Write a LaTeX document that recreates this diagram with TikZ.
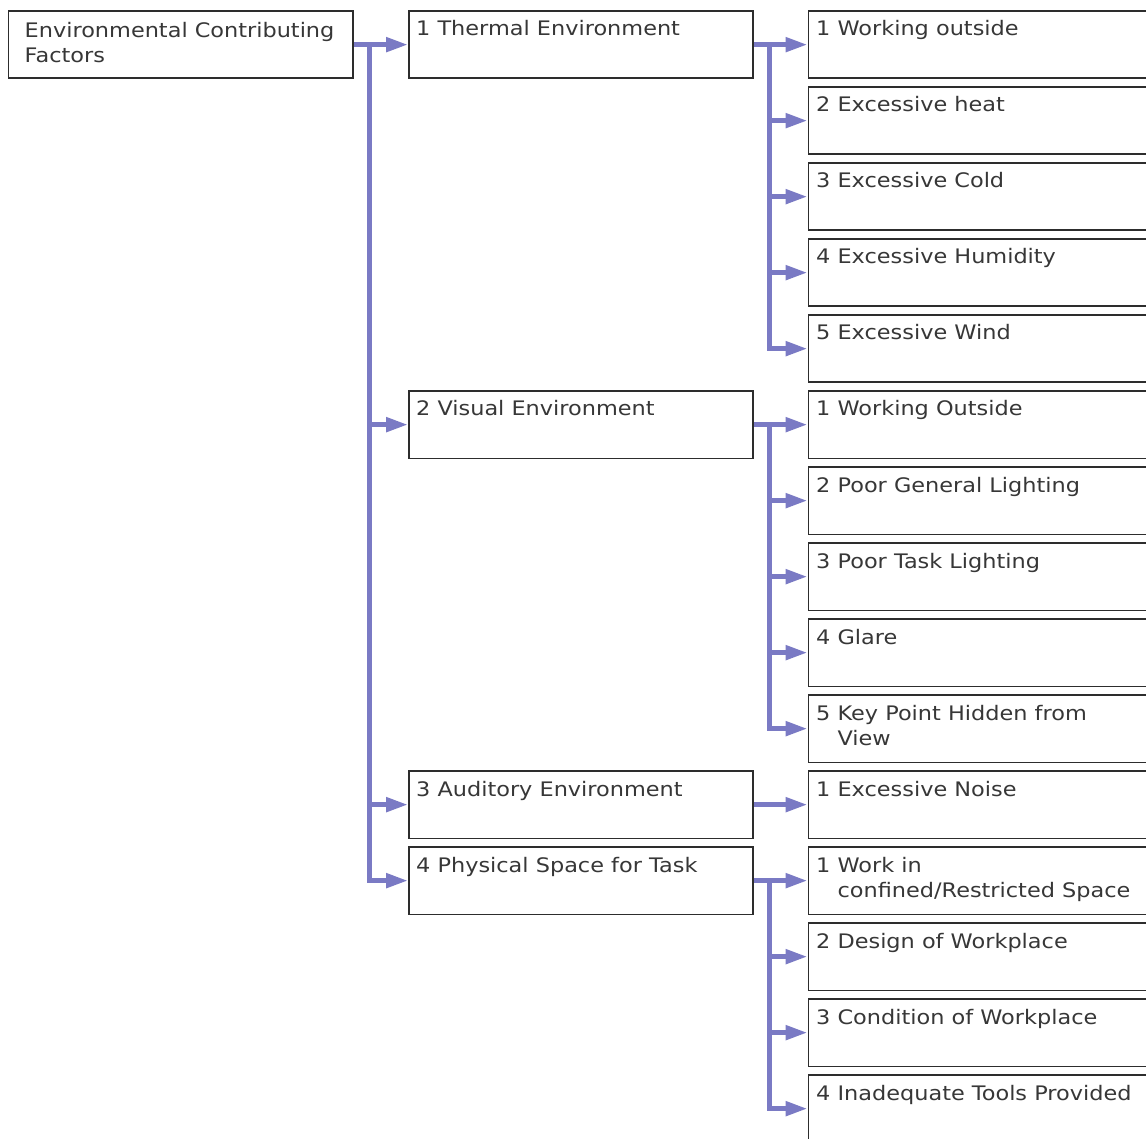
\documentclass[tikz,border=0pt]{standalone}
\usepackage{fontspec}
\setmainfont{DejaVu Sans}[FakeStretch=1.12]
\usetikzlibrary{arrows.meta,calc}
\definecolor{linkblue}{RGB}{122,122,196}
\definecolor{boxline}{RGB}{45,45,45}
\definecolor{ink}{RGB}{55,55,55}
% two lines stacked, baseline on the first one
\newcommand\stacklines[2]{\vtop{\hbox{#1}\hbox{#2}}}
\begin{document}
\begin{tikzpicture}[x=1pt,y=-1pt,
  box/.style={draw=boxline,line width=1.8pt,fill=white,anchor=north west,inner sep=0pt,minimum height=67.5pt},
  rootbox/.style={box,minimum width=344.5pt},
  midbox/.style={box,minimum width=344pt},
  leafbox/.style={box,minimum width=360pt},
  lbl/.style={anchor=base west,inner sep=0pt,text=ink,font=\fontsize{20}{25}\selectfont},
  conn/.style={draw=linkblue,line width=5pt,-{Triangle[length=22pt,width=14pt]}}
]
\useasboundingbox (0,0) rectangle (1146,1139);
\fill[white] (0,0) rectangle (1146,1139);
\clip (0,0) rectangle (1146,1139);

% root
\node[rootbox] (root) at (7.5,10) {};
\node[lbl] (rootT) at (24.5,37.5) {\stacklines{Environmental Contributing}{Factors}};

% second level
\foreach \n/\y/\t in {b1/10/{1 Thermal Environment},
                      b2/390/{2 Visual Environment},
                      b3/770/{3 Auditory Environment},
                      b4/846/{4 Physical Space for Task}} {
  \node[midbox] (\n) at (408,\y) {};
  \node[lbl] (\n T) at (416,\y+26) {\t};
}

% third level
\foreach \n/\k/\t in {t1/0/{1 Working outside},
                      t2/1/{2 Excessive heat},
                      t3/2/{3 Excessive Cold},
                      t4/3/{4 Excessive Humidity},
                      t5/4/{5 Excessive Wind},
                      v1/5/{1 Working Outside},
                      v2/6/{2 Poor General Lighting},
                      v3/7/{3 Poor Task Lighting},
                      v4/8/{4 Glare},
                      v5/9/{\stacklines{5 Key Point Hidden from}{\phantom{5 }View}},
                      a1/10/{1 Excessive Noise},
                      p1/11/{\stacklines{1 Work in}{\phantom{1 }confined/Restricted Space}},
                      p2/12/{2 Design of Workplace},
                      p3/13/{3 Condition of Workplace},
                      p4/14/{4 Inadequate Tools Provided}} {
  \node[leafbox] (\n) at (807.5,10+76*\k) {};
  \node[lbl] (\n T) at (816,36+76*\k) {\t};
}

% connectors from the root
\coordinate (j0) at ([xshift=15.5pt]root.east);
\draw[conn] (root.east) -- (b1.west);
\foreach \n in {b2,b3,b4} \draw[conn] (j0) |- (\n.west);

% thermal
\coordinate (j1) at ([xshift=16pt]b1.east);
\draw[conn] (b1.east) -- (t1.west);
\foreach \n in {t2,t3,t4,t5} \draw[conn] (j1) |- (\n.west);

% visual
\coordinate (j2) at ([xshift=16pt]b2.east);
\draw[conn] (b2.east) -- (v1.west);
\foreach \n in {v2,v3,v4,v5} \draw[conn] (j2) |- (\n.west);

% auditory
\draw[conn] (b3.east) -- (a1.west);

% physical space
\coordinate (j4) at ([xshift=16pt]b4.east);
\draw[conn] (b4.east) -- (p1.west);
\foreach \n in {p2,p3,p4} \draw[conn] (j4) |- (\n.west);
\end{tikzpicture}
\end{document}
